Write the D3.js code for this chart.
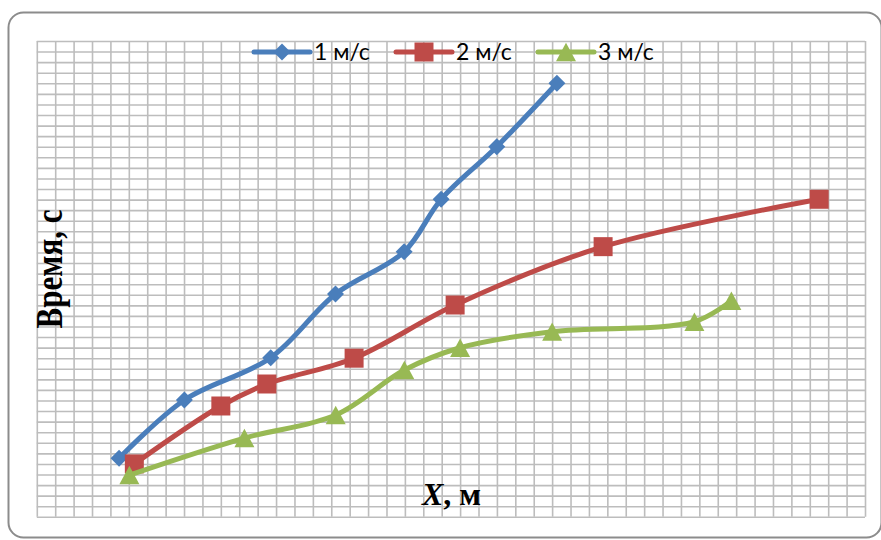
<!DOCTYPE html>
<html>
<head>
<meta charset="utf-8">
<script src="https://cdn.jsdelivr.net/npm/d3@7"></script>
<style>
  html, body { margin: 0; padding: 0; background: #fff; }
  svg { display: block; }
</style>
</head>
<body>
<svg id="chart" width="881" height="540"></svg>
<script>
// ---- data (grid units) ----
const seriesNames = ["1 м/с", "2 м/с", "3 м/с"];
const seriesColors = ["#4A7EBB", "#BE4B48", "#98B954"];
const x1 = [4.47, 8.02, 12.71, 16.23, 19.96, 21.97, 24.99, 28.26];
const y1 = [5.53, 11.05, 15.05, 21.07, 25.07, 30.03, 35.0, 41.0];
const x2 = [5.3, 10.0, 12.5, 17.24, 22.73, 30.77, 42.51];
const y2 = [5.0, 10.48, 12.56, 15.0, 20.03, 25.55, 30.03];
const x3 = [5.03, 11.28, 16.24, 19.97, 23.0, 28.0, 35.73, 37.74];
const y3 = [3.95, 7.45, 9.63, 13.88, 15.99, 17.51, 18.45, 20.44];
const xDomain = [0, 45];
const yDomain = [0, 45];
const xTitle = ["X", ", м"];
const yTitle = "Время, с";

const series = [
  { name: seriesNames[0], color: seriesColors[0], marker: "diamond", pts: x1.map((v, i) => [v, y1[i]]) },
  { name: seriesNames[1], color: seriesColors[1], marker: "square", pts: x2.map((v, i) => [v, y2[i]]) },
  { name: seriesNames[2], color: seriesColors[2], marker: "triangle", pts: x3.map((v, i) => [v, y3[i]]) }
];

const svg = d3.select("#chart");
const plot = { left: 36.8, top: 41, right: 865, bottom: 516.8 };

// outer rounded frame
svg.append("rect")
  .attr("x", 8.5).attr("y", 12.5)
  .attr("width", 873).attr("height", 525)
  .attr("rx", 15).attr("ry", 15)
  .attr("fill", "#fff")
  .attr("stroke", "#8C8C8C").attr("stroke-width", 2);

const x = d3.scaleLinear().domain(xDomain).range([plot.left, plot.right]);
const y = d3.scaleLinear().domain(yDomain).range([plot.bottom, plot.top]);

// grid via axes
const gx = svg.append("g")
  .attr("transform", `translate(0,${plot.bottom})`)
  .call(d3.axisBottom(x).tickValues(d3.range(xDomain[0], xDomain[1] + 1))
    .tickSize(-(plot.bottom - plot.top)).tickFormat(""));
const gy = svg.append("g")
  .attr("transform", `translate(${plot.left},0)`)
  .call(d3.axisLeft(y).tickValues(d3.range(yDomain[0], yDomain[1] + 1))
    .tickSize(-(plot.right - plot.left)).tickFormat(""));
[gx, gy].forEach(g => {
  g.select(".domain").remove();
  g.selectAll(".tick line").attr("stroke", "#BDBDBD").attr("stroke-width", 1.6);
});

// marker symbol types
const symDiamond = { draw(ctx, size) { const r = Math.sqrt(size) / 2;
  ctx.moveTo(0, -r); ctx.lineTo(r, 0); ctx.lineTo(0, r); ctx.lineTo(-r, 0); ctx.closePath(); } };
const symSquare = { draw(ctx, size) { const r = Math.sqrt(size) / 2;
  ctx.rect(-r, -r, 2 * r, 2 * r); } };
const symTriangle = { draw(ctx, size) { const w = Math.sqrt(size); const h = w * 0.92;
  ctx.moveTo(0, -h / 2); ctx.lineTo(w / 2, h / 2); ctx.lineTo(-w / 2, h / 2); ctx.closePath(); } };
const markerDef = {
  diamond: d3.symbol(symDiamond, 17 * 17),
  square: d3.symbol(symSquare, 19 * 19),
  triangle: d3.symbol(symTriangle, 20 * 20)
};

const line = d3.line()
  .x(d => x(d[0])).y(d => y(d[1]))
  .curve(d3.curveCatmullRom.alpha(0.5));

series.forEach(s => {
  const g = svg.append("g");
  g.append("path")
    .attr("d", line(s.pts))
    .attr("fill", "none")
    .attr("stroke", s.color)
    .attr("stroke-width", 5)
    .attr("stroke-linejoin", "round")
    .attr("stroke-linecap", "round");
  g.selectAll("path.m").data(s.pts).join("path")
    .attr("class", "m")
    .attr("d", markerDef[s.marker]())
    .attr("transform", d => `translate(${x(d[0])},${y(d[1])})`)
    .attr("fill", s.color);
});

// legend
const legend = svg.append("g");
const legStart = 254, legY = 52, lineLen = 56, legGap = 142;
series.forEach((s, i) => {
  const gx0 = legStart + i * legGap;
  const lg = legend.append("g").attr("transform", `translate(${gx0},${legY})`);
  lg.append("line").attr("x1", 0).attr("x2", lineLen).attr("y1", 0).attr("y2", 0)
    .attr("stroke", s.color).attr("stroke-width", 5).attr("stroke-linecap", "round");
  lg.append("path").attr("d", markerDef[s.marker]())
    .attr("transform", `translate(${lineLen / 2},0)`).attr("fill", s.color);
  lg.append("text").attr("x", lineLen + 4).attr("y", 7.5)
    .attr("font-family", "Lato, 'Open Sans', sans-serif")
    .attr("font-size", 23)
    .attr("fill", "#000")
    .text(s.name);
});

// axis titles
const xt = svg.append("text")
  .attr("x", 422).attr("y", 505)
  .attr("font-family", "'Liberation Serif', 'Times New Roman', serif")
  .attr("font-size", 32).attr("font-weight", "bold").attr("fill", "#000");
xt.append("tspan").attr("font-style", "italic").text(xTitle[0]);
xt.append("tspan").text(xTitle[1]);

svg.append("text")
  .attr("transform", "translate(62,269) scale(1.2,1) rotate(-90)")
  .attr("text-anchor", "middle")
  .attr("font-family", "'Liberation Serif', 'Times New Roman', serif")
  .attr("font-size", 31).attr("font-weight", "bold").attr("fill", "#000")
  .text(yTitle);
</script>
</body>
</html>
